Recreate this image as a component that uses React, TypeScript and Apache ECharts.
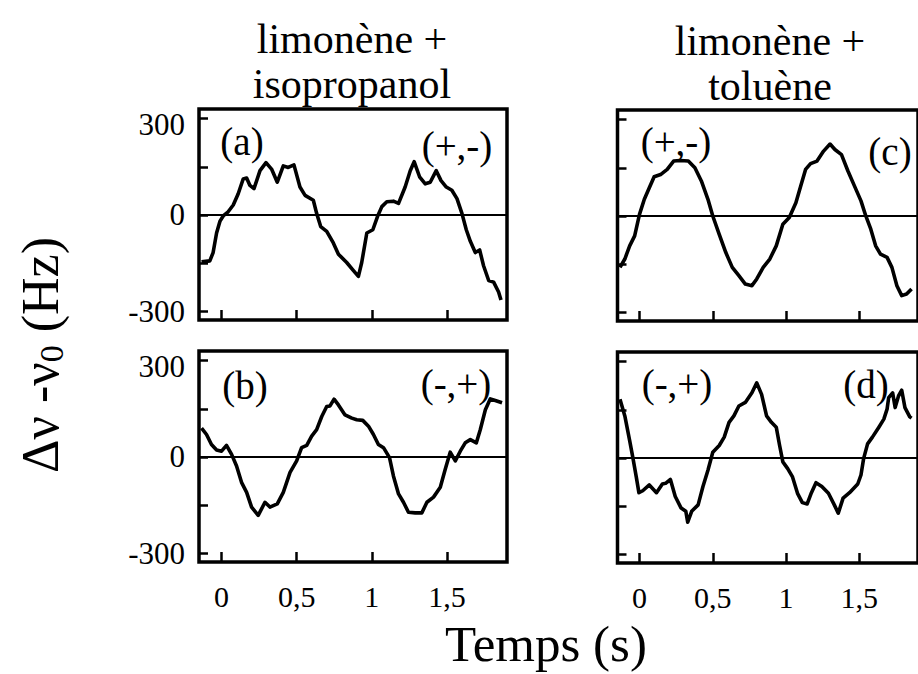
import React, { useEffect, useRef } from "react";
import * as echarts from "echarts";

const xTicks = [0, 0.5, 1, 1.5];
const yTicks = [-300, -150, 0, 150, 300];
const yLabels = [-300, 0, 300];

const tA = [-0.133,-0.078,-0.056,-0.033,-0.011,0.011,0.044,0.078,0.111,0.144,0.167,0.189,0.216,0.256,0.296,0.333,0.371,0.411,0.444,0.482,0.522,0.556,0.611,0.633,0.66,0.7,0.744,0.778,0.833,0.878,0.911,0.933,0.967,1.007,1.038,1.067,1.1,1.144,1.178,1.222,1.256,1.282,1.318,1.356,1.389,1.429,1.461,1.496,1.533,1.567,1.6,1.629,1.656,1.689,1.718,1.744,1.778,1.811,1.844,1.86];
const vA = [-146,-143,-117,-56,-20,-3,10,31,66,112,115,92,82,138,163,143,102,153,148,156,87,61,46,5,-36,-51,-87,-122,-148,-173,-191,-148,-56,-46,-5,26,41,43,36,87,138,166,119,97,102,138,107,87,77,51,5,-46,-82,-117,-109,-158,-204,-209,-240,-265];

const tB = [-0.133,-0.1,-0.067,-0.033,0,0.033,0.067,0.1,0.133,0.167,0.2,0.244,0.289,0.322,0.371,0.411,0.456,0.5,0.533,0.567,0.6,0.633,0.667,0.7,0.722,0.749,0.778,0.822,0.867,0.9,0.94,0.978,1.011,1.044,1.078,1.118,1.144,1.178,1.211,1.244,1.289,1.333,1.367,1.411,1.456,1.489,1.522,1.556,1.589,1.622,1.656,1.696,1.722,1.756,1.789,1.822,1.867];
const vB = [90,70,39,22,18,36,8,-28,-79,-110,-156,-182,-141,-156,-146,-110,-48,-12,29,36,65,85,126,157,159,180,162,131,121,116,114,96,70,39,29,-2,-59,-115,-141,-172,-174,-174,-141,-125,-94,-38,15,-12,18,44,54,44,85,147,181,176,169];

const tC = [-0.133,-0.1,-0.067,-0.033,0,0.033,0.067,0.1,0.144,0.189,0.233,0.278,0.333,0.378,0.422,0.467,0.5,0.544,0.589,0.633,0.678,0.722,0.767,0.8,0.844,0.889,0.933,0.978,1.022,1.067,1.1,1.133,1.167,1.211,1.256,1.3,1.333,1.378,1.422,1.467,1.511,1.544,1.578,1.611,1.644,1.689,1.722,1.756,1.789,1.822,1.856];
const vC = [-160,-134,-93,-62,5,52,88,122,129,145,171,173,171,150,109,52,0,-57,-114,-160,-186,-212,-217,-196,-160,-134,-93,-26,-5,41,93,145,163,171,202,224,207,191,140,93,47,0,-41,-93,-119,-129,-160,-217,-248,-243,-227];

const tD = [-0.133,-0.1,-0.067,-0.044,-0.022,-0.004,0.022,0.067,0.116,0.156,0.178,0.211,0.244,0.284,0.316,0.329,0.356,0.4,0.433,0.467,0.5,0.544,0.578,0.611,0.644,0.678,0.722,0.767,0.8,0.833,0.867,0.9,0.933,0.956,0.978,1.011,1.044,1.078,1.111,1.144,1.173,1.204,1.244,1.289,1.329,1.356,1.389,1.433,1.489,1.511,1.529,1.556,1.589,1.633,1.667,1.689,1.7,1.727,1.744,1.767,1.789,1.811,1.844,1.856];
const vD = [183,131,54,-2,-59,-108,-102,-84,-108,-81,-79,-67,-120,-156,-166,-200,-166,-146,-89,-38,18,39,65,111,131,162,173,203,234,198,131,111,96,39,-12,-33,-59,-110,-139,-143,-108,-77,-89,-110,-146,-172,-125,-108,-81,-53,-2,44,65,96,121,152,188,203,157,193,211,157,128,124];

const panelLabels = [
  { text: "(a)", x: 242, y: 141 },
  { text: "(+,-)", x: 457, y: 145 },
  { text: "(b)", x: 245, y: 385 },
  { text: "(-,+)", x: 456, y: 383 },
  { text: "(+,-)", x: 676, y: 141 },
  { text: "(c)", x: 890, y: 151 },
  { text: "(-,+)", x: 677, y: 383 },
  { text: "(d)", x: 866, y: 384 },
];

const FONT = "Liberation Serif";

const zip = (t: number[], v: number[]) => t.map((x, i) => [x, v[i]]);

export default function App() {
  const ref = useRef<HTMLDivElement>(null);
  useEffect(() => {
    if (!ref.current) return;
    const chart = echarts.init(ref.current, null, { renderer: "svg" });
    const grids = [
      { left: 199, top: 109, width: 308, height: 211 },
      { left: 199, top: 351, width: 308, height: 211 },
      { left: 617.5, top: 110, width: 308, height: 211 },
      { left: 617.5, top: 352, width: 308, height: 211 },
    ];
    const showXLabel = [false, true, false, true];
    const showYLabel = [true, true, false, false];
    const datasets = [zip(tA, vA), zip(tB, vB), zip(tC, vC), zip(tD, vD)];
    const titleStyle = (text: string) => ({
      text,
      fontFamily: FONT,
      fontSize: 42,
      fill: "#000",
      align: "center",
      verticalAlign: "middle",
    });
    const option: any = {
      animation: false,
      textStyle: { fontFamily: FONT },
      grid: grids.map((g) => ({
        ...g,
        show: true,
        borderColor: "#000",
        borderWidth: 3.5,
        backgroundColor: "transparent",
        containLabel: false,
      })),
      xAxis: grids.map((_, i) => ({
        type: "value",
        gridIndex: i,
        min: -0.15,
        max: 1.9,
        position: "bottom",
        axisLine: { show: false, onZero: false },
        splitLine: { show: false },
        axisTick: {
          show: true,
          inside: true,
          length: 10,
          customValues: xTicks,
          lineStyle: { color: "#000", width: 2.5 },
        },
        axisLabel: {
          show: showXLabel[i],
          customValues: xTicks,
          formatter: (v: number) => String(v).replace(".", ","),
          fontFamily: FONT,
          fontSize: 30,
          color: "#000",
          margin: 19,
        },
      })),
      yAxis: grids.map((_, i) => ({
        type: "value",
        gridIndex: i,
        min: -327,
        max: 330,
        position: "left",
        axisLine: { show: false, onZero: false },
        splitLine: { show: false },
        axisTick: {
          show: true,
          inside: true,
          length: 9,
          customValues: yTicks,
          lineStyle: { color: "#000", width: 2.5 },
        },
        axisLabel: {
          show: showYLabel[i],
          customValues: yLabels,
          formatter: (v: number) => (v === 300 ? "{low|300}" : String(v)),
          rich: {
            low: { fontFamily: FONT, fontSize: 31, color: "#000", padding: [12, 0, 0, 0] },
          },
          fontFamily: FONT,
          fontSize: 31,
          color: "#000",
          margin: 14,
        },
      })),
      series: datasets.map((d, i) => ({
        type: "line",
        xAxisIndex: i,
        yAxisIndex: i,
        data: d,
        symbol: "none",
        clip: true,
        lineStyle: { color: "#000", width: 3.6, join: "round" },
        markLine: {
          silent: true,
          symbol: "none",
          label: { show: false },
          lineStyle: { color: "#000", width: 2, type: "solid" },
          data: [{ yAxis: 0 }],
        },
      })),
      graphic: [
        ...panelLabels.map((p) => ({
          type: "text",
          x: p.x,
          y: p.y,
          style: {
            text: p.text,
            fontFamily: FONT,
            fontSize: 39,
            fill: "#000",
            align: "center",
            verticalAlign: "middle",
          },
        })),
        { type: "text", x: 352, y: 39, style: titleStyle("limonène +") },
        { type: "text", x: 352, y: 84, style: titleStyle("isopropanol") },
        { type: "text", x: 770, y: 41, style: titleStyle("limonène +") },
        { type: "text", x: 770, y: 86, style: titleStyle("toluène") },
        {
          type: "text",
          x: 546,
          y: 644,
          style: {
            text: "Temps (s)",
            fontFamily: FONT,
            fontSize: 51,
            fill: "#000",
            align: "center",
            verticalAlign: "middle",
          },
        },
        {
          type: "text",
          x: 40,
          y: 355,
          rotation: Math.PI / 2,
          style: {
            text: "Δν -ν{s|0} (Hz)",
            fontFamily: FONT,
            fontSize: 52,
            fill: "#000",
            align: "center",
            verticalAlign: "middle",
            rich: {
              s: { fontFamily: FONT, fontSize: 34, fill: "#000", verticalAlign: "bottom", padding: [22, 0, 0, 0] },
            },
          },
        },
      ],
    };
    chart.setOption(option);
    return () => chart.dispose();
  }, []);
  return (
    <div
      ref={ref}
      style={{ position: "fixed", left: 0, top: 0, width: 918, height: 674, background: "#fff" }}
    />
  );
}
